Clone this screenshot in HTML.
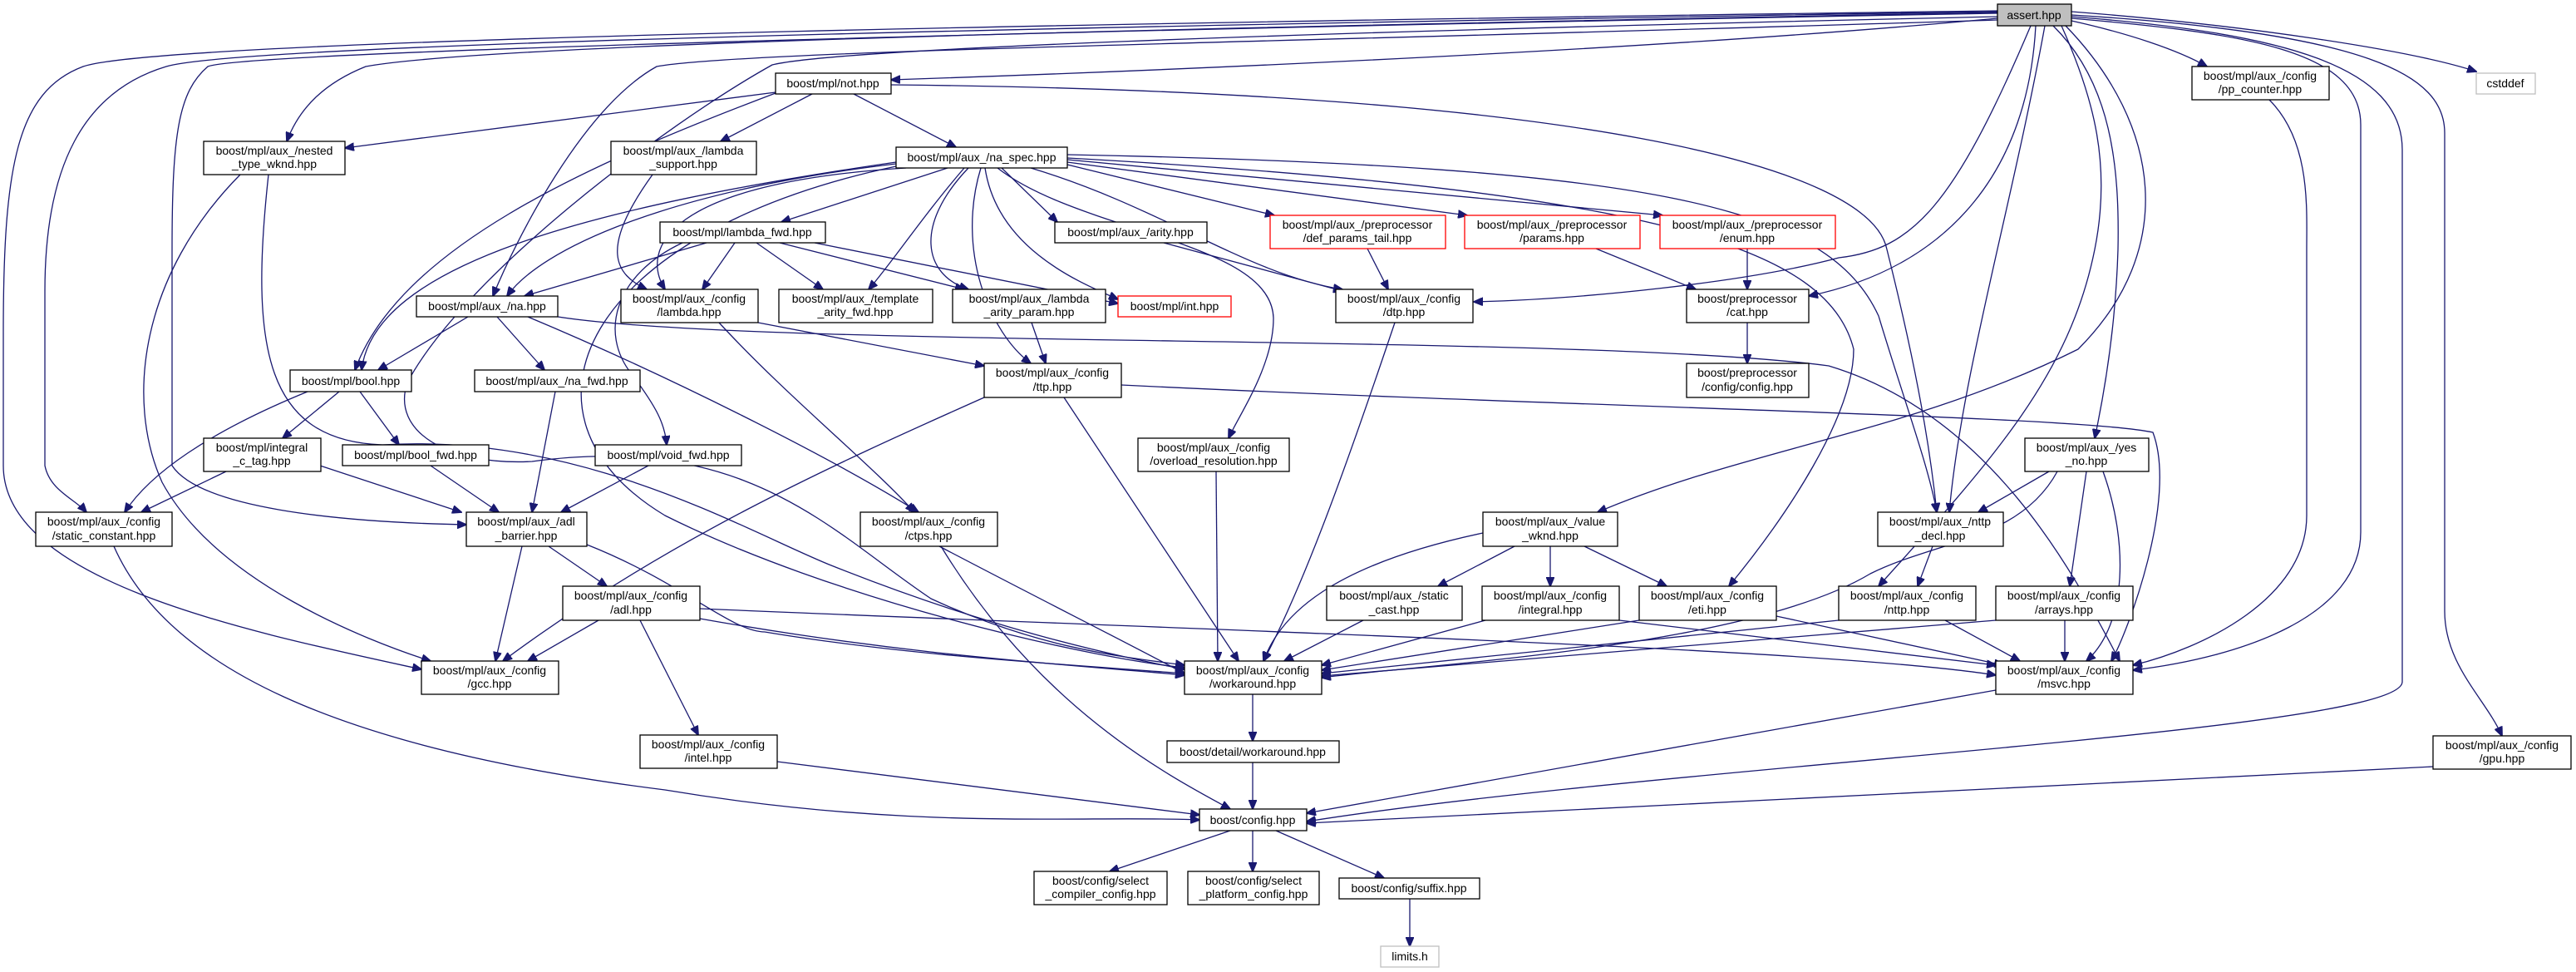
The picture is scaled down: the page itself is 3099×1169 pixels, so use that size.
<!DOCTYPE html>
<html><head><meta charset="utf-8"><style>
html,body{margin:0;padding:0;background:#fff}
svg{display:block}
text{font-family:"Liberation Sans",sans-serif;font-size:14px;fill:#000;text-anchor:middle}
.n{fill:#fff;stroke:#000;stroke-width:1.3}
.r{fill:#fff;stroke:#f00;stroke-width:1.3}
.g{fill:#fff;stroke:#bfbfbf;stroke-width:1.3}
.e path{fill:none;stroke:#191970;stroke-width:1.3}
</style></head><body>
<svg width="3099" height="1169" viewBox="0 0 3099 1169" xmlns="http://www.w3.org/2000/svg">
<defs><marker id="a" markerUnits="userSpaceOnUse" markerWidth="12" markerHeight="10" refX="11" refY="5" orient="auto"><path d="M0,0 L12,5 L0,10 z" fill="#191970" stroke="#191970"/></marker></defs>
<g class="e" marker-end="url(#a)">
<path marker-end="url(#a)" d="M2403,22 C2000,60 1400,85 1072,96"/>
<path marker-end="url(#a)" d="M2403,15 C1600,30 600,50 440,80 C390,100 360,130 345,170"/>
<path marker-end="url(#a)" d="M2403,24 C1600,50 900,60 790,80 C700,130 620,290 593,356"/>
<path marker-end="url(#a)" d="M2403,13 C1500,25 200,45 100,80 C20,110 4,200 4,400 L4,560 C4,700 300,760 507,805"/>
<path marker-end="url(#a)" d="M2403,14 C1500,28 300,50 200,80 C100,110 54,200 54,350 L54,560 C60,590 90,600 104,616"/>
<path marker-end="url(#a)" d="M2403,16 C1500,32 300,60 250,80 C215,110 207,160 207,300 L207,560 C240,610 400,628 561,631"/>
<path marker-end="url(#a)" d="M2403,20 C1500,40 1000,60 929,78 C800,150 560,330 490,460 C470,520 540,560 640,555 C900,520 1000,640 1120,720 C1250,780 1350,790 1425,800"/>
<path marker-end="url(#a)" d="M2443,31 C2350,250 2300,300 2212,310 C2100,340 1900,360 1773,363"/>
<path marker-end="url(#a)" d="M2449,31 C2440,200 2350,320 2176,356"/>
<path marker-end="url(#a)" d="M2460,31 C2420,250 2360,450 2345,616"/>
<path marker-end="url(#a)" d="M2470,31 C2540,100 2550,200 2548,300 C2545,400 2530,480 2520,527"/>
<path marker-end="url(#a)" d="M2485,31 C2600,150 2620,300 2500,420 C2300,520 2100,540 1922,616"/>
<path marker-end="url(#a)" d="M2492,22 C2700,40 2840,60 2840,150 L2840,640 C2840,740 2700,790 2566,806"/>
<path marker-end="url(#a)" d="M2492,20 C2750,40 2890,80 2890,180 L2890,820 C2890,880 2000,920 1572,988"/>
<path marker-end="url(#a)" d="M2492,18 C2850,40 2941,90 2941,160 L2941,735 C2941,800 2990,840 3010,885"/>
<path marker-end="url(#a)" d="M2492,14 C2700,30 2900,60 2979,86"/>
<path marker-end="url(#a)" d="M2492,25 C2560,40 2620,60 2655,80"/>
<path marker-end="url(#a)" d="M2480,31 C2520,120 2540,200 2520,300 C2490,450 2400,550 2260,705"/>
<path marker-end="url(#a)" d="M933,111 L415,178"/>
<path marker-end="url(#a)" d="M977,113 L867,170"/>
<path marker-end="url(#a)" d="M1027,113 L1150,177"/>
<path marker-end="url(#a)" d="M933,112 C700,200 480,300 427,445"/>
<path marker-end="url(#a)" d="M1072,102 C1900,110 2250,200 2270,300 C2300,420 2320,520 2330,616"/>
<path marker-end="url(#a)" d="M289,210 C170,330 150,480 195,580 C260,700 440,770 518,795"/>
<path marker-end="url(#a)" d="M323,210 C300,420 320,530 460,535 C700,520 900,640 1000,680 C1200,760 1350,790 1425,805"/>
<path marker-end="url(#a)" d="M785,210 C720,300 740,330 778,348"/>
<path marker-end="url(#a)" d="M1140,202 L940,267"/>
<path marker-end="url(#a)" d="M1078,197 C800,230 650,300 610,356"/>
<path marker-end="url(#a)" d="M1078,195 C700,250 450,320 435,445"/>
<path marker-end="url(#a)" d="M1090,202 C800,220 770,300 800,348"/>
<path marker-end="url(#a)" d="M1160,202 C1110,260 1070,320 1045,348"/>
<path marker-end="url(#a)" d="M1165,202 C1100,270 1110,330 1165,348"/>
<path marker-end="url(#a)" d="M1185,202 C1200,300 1300,340 1345,360"/>
<path marker-end="url(#a)" d="M1205,202 L1272,267"/>
<path marker-end="url(#a)" d="M1240,202 C1400,250 1500,330 1615,348"/>
<path marker-end="url(#a)" d="M1284,198 L1533,259"/>
<path marker-end="url(#a)" d="M1284,195 L1765,259"/>
<path marker-end="url(#a)" d="M1284,192 L2000,259"/>
<path marker-end="url(#a)" d="M1180,202 C1150,300 1190,400 1240,437"/>
<path marker-end="url(#a)" d="M1200,202 C1300,280 1530,290 1532,383 C1532,440 1490,500 1478,527"/>
<path marker-end="url(#a)" d="M1284,190 C2000,230 2200,300 2230,420 C2230,500 2150,620 2080,705"/>
<path marker-end="url(#a)" d="M1284,186 C2000,200 2200,250 2260,380 C2290,480 2320,560 2330,616"/>
<path marker-end="url(#a)" d="M1078,200 C700,280 600,500 800,620 C1000,720 1300,790 1425,803"/>
<path marker-end="url(#a)" d="M850,292 L631,356"/>
<path marker-end="url(#a)" d="M884,292 L845,348"/>
<path marker-end="url(#a)" d="M910,292 L990,348"/>
<path marker-end="url(#a)" d="M938,292 L1160,348"/>
<path marker-end="url(#a)" d="M980,292 L1345,365"/>
<path marker-end="url(#a)" d="M821,292 C740,330 720,400 760,450 C790,490 800,510 802,535"/>
<path marker-end="url(#a)" d="M563,381 L455,445"/>
<path marker-end="url(#a)" d="M598,381 L655,445"/>
<path marker-end="url(#a)" d="M635,381 C800,450 1000,550 1105,616"/>
<path marker-end="url(#a)" d="M665,380 C900,420 1900,400 2200,440 C2400,500 2500,700 2550,795"/>
<path marker-end="url(#a)" d="M912,388 L1184,440"/>
<path marker-end="url(#a)" d="M865,388 C950,480 1050,560 1100,616"/>
<path marker-end="url(#a)" d="M1241,388 L1258,437"/>
<path marker-end="url(#a)" d="M1678,388 C1620,560 1570,700 1520,795"/>
<path marker-end="url(#a)" d="M1184,478 C1000,560 800,650 605,795"/>
<path marker-end="url(#a)" d="M1280,478 L1490,795"/>
<path marker-end="url(#a)" d="M1349,463 C1900,490 2500,500 2590,520 C2620,600 2560,760 2540,795"/>
<path marker-end="url(#a)" d="M2102,388 L2102,437"/>
<path marker-end="url(#a)" d="M1920,299 L2040,348"/>
<path marker-end="url(#a)" d="M2102,299 L2102,348"/>
<path marker-end="url(#a)" d="M1645,299 L1670,348"/>
<path marker-end="url(#a)" d="M1400,292 L1615,350"/>
<path marker-end="url(#a)" d="M408,471 L340,527"/>
<path marker-end="url(#a)" d="M433,471 L480,535"/>
<path marker-end="url(#a)" d="M370,471 C250,520 180,570 150,616"/>
<path marker-end="url(#a)" d="M518,560 L600,616"/>
<path marker-end="url(#a)" d="M272,567 L170,616"/>
<path marker-end="url(#a)" d="M385,560 L555,616"/>
<path marker-end="url(#a)" d="M668,471 L640,616"/>
<path marker-end="url(#a)" d="M780,560 L675,616"/>
<path marker-end="url(#a)" d="M1463,567 L1465,795"/>
<path marker-end="url(#a)" d="M1130,657 C1250,720 1350,770 1425,810"/>
<path marker-end="url(#a)" d="M1132,657 C1250,850 1400,930 1480,973"/>
<path marker-end="url(#a)" d="M628,657 L596,795"/>
<path marker-end="url(#a)" d="M660,657 L730,705"/>
<path marker-end="url(#a)" d="M706,655 C820,700 880,760 920,760 C1100,790 1300,800 1425,810"/>
<path marker-end="url(#a)" d="M720,746 L635,795"/>
<path marker-end="url(#a)" d="M770,746 L840,884"/>
<path marker-end="url(#a)" d="M842,744 C1100,790 1300,800 1425,812"/>
<path marker-end="url(#a)" d="M842,732 C1500,760 2200,780 2401,812"/>
<path marker-end="url(#a)" d="M137,657 C200,800 400,900 800,950 C1100,1000 1300,980 1443,986"/>
<path marker-end="url(#a)" d="M935,916 L1443,980"/>
<path marker-end="url(#a)" d="M1784,641 C1600,680 1540,740 1520,795"/>
<path marker-end="url(#a)" d="M1822,657 L1730,705"/>
<path marker-end="url(#a)" d="M1865,657 L1865,705"/>
<path marker-end="url(#a)" d="M1906,657 L2005,705"/>
<path marker-end="url(#a)" d="M1640,746 L1545,795"/>
<path marker-end="url(#a)" d="M1787,746 L1590,800"/>
<path marker-end="url(#a)" d="M1948,746 L2401,800"/>
<path marker-end="url(#a)" d="M1972,746 L1590,806"/>
<path marker-end="url(#a)" d="M2137,741 L2410,800"/>
<path marker-end="url(#a)" d="M2325,657 L2307,705"/>
<path marker-end="url(#a)" d="M2212,746 L1590,810"/>
<path marker-end="url(#a)" d="M2340,746 L2430,795"/>
<path marker-end="url(#a)" d="M2401,746 L1590,813"/>
<path marker-end="url(#a)" d="M2484,746 L2484,795"/>
<path marker-end="url(#a)" d="M2510,567 L2490,705"/>
<path marker-end="url(#a)" d="M2530,567 C2560,650 2560,750 2510,795"/>
<path marker-end="url(#a)" d="M2475,567 C2430,650 2330,650 2250,690 C2100,780 1700,800 1590,815"/>
<path marker-end="url(#a)" d="M2465,567 L2380,616"/>
<path marker-end="url(#a)" d="M1507,835 L1507,891"/>
<path marker-end="url(#a)" d="M1507,917 L1507,973"/>
<path marker-end="url(#a)" d="M2401,830 L1572,978"/>
<path marker-end="url(#a)" d="M2927,922 C2300,950 1800,980 1572,990"/>
<path marker-end="url(#a)" d="M2730,120 C2780,170 2775,250 2775,300 L2775,620 C2775,720 2650,780 2566,800"/>
<path marker-end="url(#a)" d="M1480,999 L1335,1048"/>
<path marker-end="url(#a)" d="M1507,999 L1507,1048"/>
<path marker-end="url(#a)" d="M1535,999 L1665,1056"/>
<path marker-end="url(#a)" d="M1696,1081 L1696,1138"/>
</g>
<g>
<rect x="2403" y="5" width="89" height="26" fill="#bfbfbf" stroke="#000" stroke-width="1.3"/><text x="2447" y="23">assert.hpp</text>
<rect class="n" x="933" y="88" width="139" height="25"/><text x="1002" y="105">boost/mpl/not.hpp</text>
<rect class="n" x="245" y="170" width="170" height="40"/><text x="330" y="186">boost/mpl/aux_/nested</text><text x="330" y="202">_type_wknd.hpp</text>
<rect class="n" x="735" y="170" width="175" height="40"/><text x="822" y="186">boost/mpl/aux_/lambda</text><text x="822" y="202">_support.hpp</text>
<rect class="n" x="1078" y="177" width="206" height="25"/><text x="1181" y="194">boost/mpl/aux_/na_spec.hpp</text>
<rect class="n" x="794" y="267" width="199" height="25"/><text x="893" y="284">boost/mpl/lambda_fwd.hpp</text>
<rect class="n" x="1269" y="267" width="183" height="25"/><text x="1360" y="284">boost/mpl/aux_/arity.hpp</text>
<rect class="r" x="1528" y="259" width="211" height="40"/><text x="1633" y="275">boost/mpl/aux_/preprocessor</text><text x="1633" y="291">/def_params_tail.hpp</text>
<rect class="r" x="1762" y="259" width="211" height="40"/><text x="1867" y="275">boost/mpl/aux_/preprocessor</text><text x="1867" y="291">/params.hpp</text>
<rect class="r" x="1997" y="259" width="211" height="40"/><text x="2102" y="275">boost/mpl/aux_/preprocessor</text><text x="2102" y="291">/enum.hpp</text>
<rect class="n" x="2637" y="80" width="165" height="40"/><text x="2719" y="96">boost/mpl/aux_/config</text><text x="2719" y="112">/pp_counter.hpp</text>
<rect class="g" x="2979" y="88" width="71" height="25"/><text x="3014" y="105">cstddef</text>
<rect class="n" x="501" y="356" width="170" height="25"/><text x="586" y="373">boost/mpl/aux_/na.hpp</text>
<rect class="n" x="747" y="348" width="165" height="40"/><text x="829" y="364">boost/mpl/aux_/config</text><text x="829" y="380">/lambda.hpp</text>
<rect class="n" x="937" y="348" width="185" height="40"/><text x="1029" y="364">boost/mpl/aux_/template</text><text x="1029" y="380">_arity_fwd.hpp</text>
<rect class="n" x="1146" y="348" width="184" height="40"/><text x="1238" y="364">boost/mpl/aux_/lambda</text><text x="1238" y="380">_arity_param.hpp</text>
<rect class="r" x="1345" y="356" width="136" height="25"/><text x="1413" y="373">boost/mpl/int.hpp</text>
<rect class="n" x="1607" y="348" width="165" height="40"/><text x="1689" y="364">boost/mpl/aux_/config</text><text x="1689" y="380">/dtp.hpp</text>
<rect class="n" x="2029" y="348" width="147" height="40"/><text x="2102" y="364">boost/preprocessor</text><text x="2102" y="380">/cat.hpp</text>
<rect class="n" x="349" y="445" width="146" height="26"/><text x="422" y="463">boost/mpl/bool.hpp</text>
<rect class="n" x="571" y="445" width="199" height="26"/><text x="670" y="463">boost/mpl/aux_/na_fwd.hpp</text>
<rect class="n" x="1184" y="437" width="165" height="41"/><text x="1266" y="453">boost/mpl/aux_/config</text><text x="1266" y="470">/ttp.hpp</text>
<rect class="n" x="2029" y="437" width="147" height="41"/><text x="2102" y="453">boost/preprocessor</text><text x="2102" y="470">/config/config.hpp</text>
<rect class="n" x="245" y="527" width="141" height="40"/><text x="315" y="543">boost/mpl/integral</text><text x="315" y="559">_c_tag.hpp</text>
<rect class="n" x="412" y="535" width="176" height="25"/><text x="500" y="552">boost/mpl/bool_fwd.hpp</text>
<rect class="n" x="716" y="535" width="176" height="25"/><text x="804" y="552">boost/mpl/void_fwd.hpp</text>
<rect class="n" x="1369" y="527" width="182" height="40"/><text x="1460" y="543">boost/mpl/aux_/config</text><text x="1460" y="559">/overload_resolution.hpp</text>
<rect class="n" x="2436" y="527" width="149" height="40"/><text x="2510" y="543">boost/mpl/aux_/yes</text><text x="2510" y="559">_no.hpp</text>
<rect class="n" x="43" y="616" width="164" height="41"/><text x="125" y="632">boost/mpl/aux_/config</text><text x="125" y="649">/static_constant.hpp</text>
<rect class="n" x="561" y="616" width="145" height="41"/><text x="633" y="632">boost/mpl/aux_/adl</text><text x="633" y="649">_barrier.hpp</text>
<rect class="n" x="1035" y="616" width="165" height="41"/><text x="1117" y="632">boost/mpl/aux_/config</text><text x="1117" y="649">/ctps.hpp</text>
<rect class="n" x="1784" y="616" width="162" height="41"/><text x="1865" y="632">boost/mpl/aux_/value</text><text x="1865" y="649">_wknd.hpp</text>
<rect class="n" x="2259" y="616" width="151" height="41"/><text x="2334" y="632">boost/mpl/aux_/nttp</text><text x="2334" y="649">_decl.hpp</text>
<rect class="n" x="677" y="705" width="165" height="41"/><text x="759" y="721">boost/mpl/aux_/config</text><text x="759" y="738">/adl.hpp</text>
<rect class="n" x="1596" y="705" width="163" height="41"/><text x="1677" y="721">boost/mpl/aux_/static</text><text x="1677" y="738">_cast.hpp</text>
<rect class="n" x="1783" y="705" width="165" height="41"/><text x="1865" y="721">boost/mpl/aux_/config</text><text x="1865" y="738">/integral.hpp</text>
<rect class="n" x="1972" y="705" width="165" height="41"/><text x="2054" y="721">boost/mpl/aux_/config</text><text x="2054" y="738">/eti.hpp</text>
<rect class="n" x="2212" y="705" width="165" height="41"/><text x="2294" y="721">boost/mpl/aux_/config</text><text x="2294" y="738">/nttp.hpp</text>
<rect class="n" x="2401" y="705" width="165" height="41"/><text x="2483" y="721">boost/mpl/aux_/config</text><text x="2483" y="738">/arrays.hpp</text>
<rect class="n" x="507" y="795" width="165" height="40"/><text x="589" y="811">boost/mpl/aux_/config</text><text x="589" y="827">/gcc.hpp</text>
<rect class="n" x="1425" y="795" width="165" height="40"/><text x="1507" y="811">boost/mpl/aux_/config</text><text x="1507" y="827">/workaround.hpp</text>
<rect class="n" x="2401" y="795" width="165" height="40"/><text x="2483" y="811">boost/mpl/aux_/config</text><text x="2483" y="827">/msvc.hpp</text>
<rect class="n" x="770" y="884" width="165" height="40"/><text x="852" y="900">boost/mpl/aux_/config</text><text x="852" y="916">/intel.hpp</text>
<rect class="n" x="2927" y="885" width="166" height="40"/><text x="3010" y="901">boost/mpl/aux_/config</text><text x="3010" y="917">/gpu.hpp</text>
<rect class="n" x="1404" y="891" width="207" height="26"/><text x="1507" y="909">boost/detail/workaround.hpp</text>
<rect class="n" x="1443" y="973" width="129" height="26"/><text x="1507" y="991">boost/config.hpp</text>
<rect class="n" x="1244" y="1048" width="160" height="40"/><text x="1324" y="1064">boost/config/select</text><text x="1324" y="1080">_compiler_config.hpp</text>
<rect class="n" x="1429" y="1048" width="158" height="40"/><text x="1508" y="1064">boost/config/select</text><text x="1508" y="1080">_platform_config.hpp</text>
<rect class="n" x="1611" y="1056" width="169" height="25"/><text x="1695" y="1073">boost/config/suffix.hpp</text>
<rect class="g" x="1661" y="1138" width="70" height="25"/><text x="1696" y="1155">limits.h</text>
</g>
</svg>
</body></html>
